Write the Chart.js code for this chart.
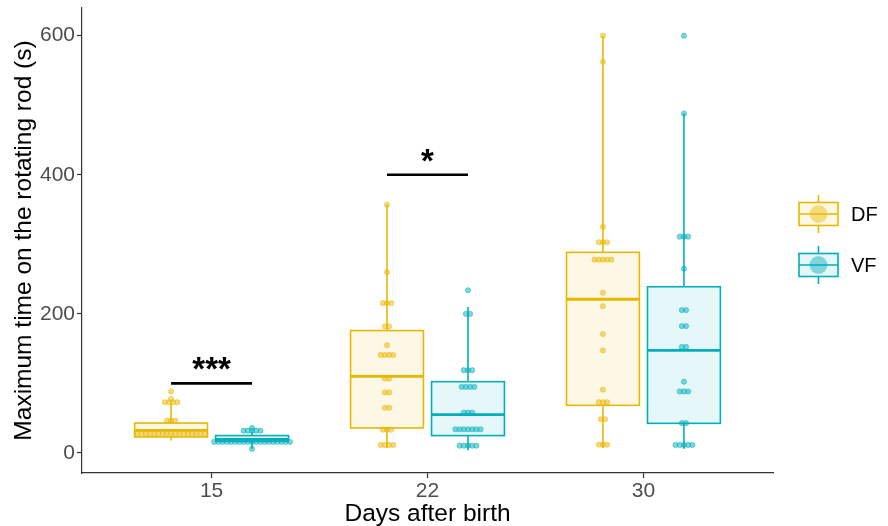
<!DOCTYPE html>
<html>
<head>
<meta charset="utf-8">
<script src="https://cdn.jsdelivr.net/npm/chart.js@4.4.1/dist/chart.umd.min.js"></script>
<style>
  html, body { margin: 0; padding: 0; background: #fff; }
  #wrap { width: 888px; height: 526px; }
</style>
</head>
<body>
<div id="wrap"><canvas id="chart"></canvas></div>
<script>
const days = ['15', '22', '30'];
const yTicks = [0, 200, 400, 600];

// box stats, one entry per day
const dfQ1 = [23, 36, 68.5];
const dfMedian = [32.5, 110, 221];
const dfQ3 = [43, 176, 288.5];
const dfLow = [18, 7, 7];
const dfHigh = [72, 357, 600];

const vfQ1 = [16.7, 25, 42.6];
const vfMedian = [19.5, 55, 147.5];
const vfQ3 = [25, 102.5, 239];
const vfLow = [6, 4, 6];
const vfHigh = [31, 210, 488];

// dot rows: [value, how many dots in the row]
const dfDots = [
  [[88.5, 1], [77.5, 1], [73, 4], [46.5, 3], [28, 17]],
  [[357, 1], [260, 1], [215.5, 3], [182, 2], [155, 1], [141, 4], [107, 2], [87, 2], [65, 2], [33.5, 3], [11.5, 4]],
  [[600, 1], [562.5, 1], [325, 1], [303, 3], [278, 5], [230.5, 1], [211, 1], [171, 1], [147.5, 1], [91, 1], [73, 3], [48.5, 2], [12, 3]]
];
const vfDots = [
  [[36, 1], [32, 5], [16, 19], [6, 1]],
  [[234, 1], [200, 2], [119, 3], [95, 4], [58, 3], [34, 7], [10.5, 5]],
  [[600, 1], [488, 1], [311, 3], [265, 1], [205.5, 2], [182.5, 2], [152.5, 2], [102.5, 1], [88.5, 3], [43, 2], [11.5, 5]]
];

// significance marks
const sigDay = [0, 1];
const sigY = [100, 400];
const sigText = ['***', '*'];

const FONT = "'Liberation Sans', Arial, sans-serif";
const DF_COL = '#E7B800';
const VF_COL = '#00AFBB';
const dodge = 0.1875;
const boxW = 0.3375;
const dotStep = 0.0195;

function rgba(hex, a) {
  const n = parseInt(hex.slice(1), 16);
  return `rgba(${n >> 16}, ${(n >> 8) & 255}, ${n & 255}, ${a})`;
}

function dotData(rows, shift) {
  const pts = [];
  rows.forEach((dayRows, d) => {
    dayRows.forEach(([v, n]) => {
      for (let i = 0; i < n; i++) {
        pts.push({ x: d + 1 + shift + (i - (n - 1) / 2) * dotStep, y: v });
      }
    });
  });
  return pts;
}

const boxSets = [
  { color: DF_COL, shift: -dodge, q1: dfQ1, med: dfMedian, q3: dfQ3, lo: dfLow, hi: dfHigh },
  { color: VF_COL, shift: dodge, q1: vfQ1, med: vfMedian, q3: vfQ3, lo: vfLow, hi: vfHigh }
];

const boxPlugin = {
  id: 'boxes',
  beforeDatasetsDraw(chart) {
    const { ctx, scales: { x, y } } = chart;
    ctx.save();
    boxSets.forEach(s => {
      for (let d = 0; d < days.length; d++) {
        const cx = x.getPixelForValue(d + 1 + s.shift);
        const l = x.getPixelForValue(d + 1 + s.shift - boxW / 2);
        const r = x.getPixelForValue(d + 1 + s.shift + boxW / 2);
        const top = y.getPixelForValue(s.q3[d]);
        const bot = y.getPixelForValue(s.q1[d]);
        ctx.strokeStyle = s.color;
        ctx.lineWidth = 1.6;
        ctx.beginPath();
        ctx.moveTo(cx, y.getPixelForValue(s.hi[d]));
        ctx.lineTo(cx, top);
        ctx.moveTo(cx, bot);
        ctx.lineTo(cx, y.getPixelForValue(s.lo[d]));
        ctx.stroke();
        ctx.fillStyle = rgba(s.color, 0.1);
        ctx.fillRect(l, top, r - l, bot - top);
        ctx.strokeRect(l, top, r - l, bot - top);
        const m = y.getPixelForValue(s.med[d]);
        ctx.lineWidth = 2.8;
        ctx.beginPath();
        ctx.moveTo(l, m);
        ctx.lineTo(r, m);
        ctx.stroke();
      }
    });
    ctx.restore();
  },
  afterDraw(chart) {
    const { ctx, scales: { x, y } } = chart;
    ctx.save();
    // significance bars
    sigDay.forEach((d, i) => {
      const l = x.getPixelForValue(d + 1 - dodge);
      const r = x.getPixelForValue(d + 1 + dodge);
      const yy = y.getPixelForValue(sigY[i]);
      ctx.strokeStyle = '#000';
      ctx.lineWidth = 2.6;
      ctx.beginPath();
      ctx.moveTo(l, yy);
      ctx.lineTo(r, yy);
      ctx.stroke();
      ctx.fillStyle = '#000';
      ctx.font = `bold 33px ${FONT}`;
      ctx.textAlign = 'center';
      ctx.textBaseline = 'alphabetic';
      ctx.fillText(sigText[i], x.getPixelForValue(d + 1), yy - 3);
    });
    // legend
    const keys = [{ label: 'DF', color: DF_COL, cy: 214 }, { label: 'VF', color: VF_COL, cy: 265 }];
    keys.forEach(k => {
      const kx = 799, kw = 39, kh = 23;
      ctx.strokeStyle = k.color;
      ctx.lineWidth = 1.6;
      ctx.beginPath();
      ctx.moveTo(kx + kw / 2, k.cy - 19);
      ctx.lineTo(kx + kw / 2, k.cy - kh / 2);
      ctx.moveTo(kx + kw / 2, k.cy + kh / 2);
      ctx.lineTo(kx + kw / 2, k.cy + 19);
      ctx.stroke();
      ctx.fillStyle = rgba(k.color, 0.1);
      ctx.fillRect(kx, k.cy - kh / 2, kw, kh);
      ctx.strokeRect(kx, k.cy - kh / 2, kw, kh);
      ctx.beginPath();
      ctx.moveTo(kx, k.cy);
      ctx.lineTo(kx + kw, k.cy);
      ctx.stroke();
      ctx.fillStyle = rgba(k.color, 0.45);
      ctx.beginPath();
      ctx.arc(kx + kw / 2, k.cy, 9, 0, Math.PI * 2);
      ctx.fill();
      ctx.fillStyle = '#000';
      ctx.font = `20px ${FONT}`;
      ctx.textAlign = 'left';
      ctx.textBaseline = 'middle';
      ctx.fillText(k.label, 851, k.cy + 1);
    });
    ctx.restore();
  }
};

new Chart(document.getElementById('chart'), {
  type: 'scatter',
  data: {
    datasets: [
      {
        label: 'DF',
        data: dotData(dfDots, -dodge),
        backgroundColor: rgba(DF_COL, 0.5),
        borderColor: rgba(DF_COL, 0.6),
        borderWidth: 0.8,
        pointRadius: 2.6
      },
      {
        label: 'VF',
        data: dotData(vfDots, dodge),
        backgroundColor: rgba(VF_COL, 0.5),
        borderColor: rgba(VF_COL, 0.6),
        borderWidth: 0.8,
        pointRadius: 2.6
      }
    ]
  },
  options: {
    responsive: true,
    maintainAspectRatio: false,
    animation: false,
    layout: { padding: { top: 8, right: 115, left: 0, bottom: 0 } },
    plugins: { legend: { display: false }, tooltip: { enabled: false } },
    scales: {
      x: {
        type: 'linear',
        min: 0.4,
        max: 3.6,
        afterBuildTicks: s => { s.ticks = days.map((d, i) => ({ value: i + 1 })); },
        afterFit: s => { s.height = 53; },
        grid: { drawOnChartArea: false, color: '#333', tickLength: 5, tickWidth: 1.2 },
        border: { color: '#333', width: 1.2 },
        ticks: {
          color: '#4D4D4D',
          font: { size: 21, family: FONT },
          padding: 1,
          autoSkip: false,
          maxRotation: 0,
          callback: v => days[v - 1]
        },
        title: { display: true, text: 'Days after birth', color: '#000', font: { size: 24.5, family: FONT, lineHeight: 1.0 }, padding: 0 }
      },
      y: {
        min: -28.8,
        max: 639.8,
        afterBuildTicks: s => { s.ticks = yTicks.map(v => ({ value: v })); },
        afterFit: s => { s.width = 82; s.paddingTop = 0; s.paddingBottom = 0; },
        grid: { drawOnChartArea: false, color: '#333', tickLength: 5, tickWidth: 1.2 },
        border: { color: '#333', width: 1.2 },
        ticks: { color: '#4D4D4D', font: { size: 21, family: FONT }, padding: 2 },
        title: { display: true, text: 'Maximum time on the rotating rod (s)', color: '#000', font: { size: 24.5, family: FONT }, padding: { top: 10, bottom: 0 } }
      }
    }
  },
  plugins: [boxPlugin]
});
</script>
</body>
</html>
